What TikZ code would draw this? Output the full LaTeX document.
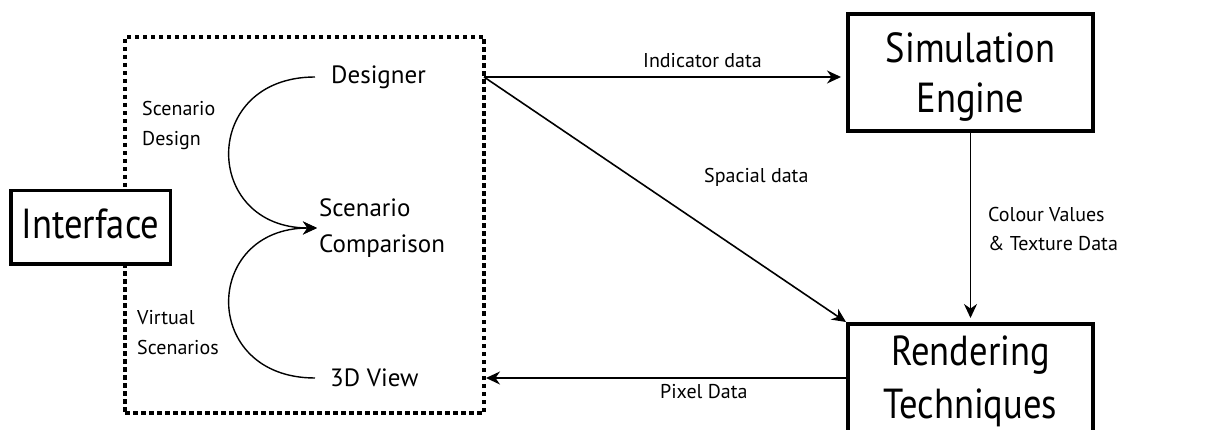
\documentclass[tikz,border=0pt]{standalone}
\usepackage{fontspec}
\setmainfont{PT Sans}
\newfontfamily\boxfont[FakeStretch=0.87]{PT Sans}
\usetikzlibrary{arrows.meta}
\begin{document}
\begin{tikzpicture}[x=1pt,y=-1pt,
  box/.style={draw, line width=4pt, fill=white, align=center, inner sep=0pt,
    font=\boxfont\fontsize{42}{50}\selectfont},
  lbl/.style={inner sep=0pt, align=left, font=\fontsize{20}{30}\selectfont},
  item/.style={inner ysep=0pt, align=left, font=\fontsize{25}{36}\selectfont},
  conn/.style={line width=1.6pt, -{Stealth[length=14pt,width=13pt]}},
  panelbox/.style={draw, line width=3.5pt, dash pattern=on 4.5pt off 3.5pt, inner sep=0pt}
]
\clip (0,0) rectangle (1231,430);
\fill[white] (0,0) rectangle (1231,430);

% dotted panel
\node[panelbox, minimum width=359pt, minimum height=376pt] (panel) at (304.5,225) {};

% boxes
\node[box, line width=3.5pt, minimum width=159.5pt, minimum height=73.5pt,
  text height=23pt, text depth=0pt] (iface) at (90.5,227.5) {Interface};
\node[box, minimum width=245pt, minimum height=117pt, text depth=0pt] (sim) at (970.5,72.5) {Simulation\\Engine};
\node[box, minimum width=245pt, anchor=north, inner ysep=12pt,
  font=\boxfont\fontsize{42}{53}\selectfont] (render) at (970.5,322) {Rendering\\Techniques};

% items in panel
\node[item, anchor=west, inner xsep=16pt] (designer) at (315,77) {Designer};
\node[item, anchor=west, inner xsep=2pt] (comp) at (317,228) {Scenario\\Comparison};
\node[item, anchor=west, inner xsep=15pt] (view) at (315,378) {3D View};

\draw[conn, line width=1.4pt] (designer.west) .. controls +(-115,0) and +(-115,0) .. (comp.west);
\draw[conn, line width=1.4pt] (view.west) .. controls +(-115,0) and +(-115,0) .. (comp.west);

\node[lbl, anchor=base west] (sdes) at (142,146) {Scenario\\Design};
\node[lbl, anchor=base west] (vsc) at (137,354) {Virtual\\Scenarios};

% connectors
\coordinate (dout) at (484,77);
\coordinate (pix) at (486,378);
\draw[conn, shorten >=5pt] (dout) -- (sim.west |- dout);
\draw[conn] (dout) -- (render.north west);
\draw[conn, shorten >=4pt] (sim.south) -- (render.north);
\draw[conn] (render.west |- pix) -- (pix);

\node[lbl, anchor=base west] (ind) at (643,68) {Indicator data};
\node[lbl, anchor=base west] (spa) at (704,183) {Spacial data};
\node[lbl, anchor=base west, font=\fontsize{20}{29}\selectfont] (col) at (988,251) {Colour Values\\\& Texture Data};
\node[lbl, anchor=base west] (pxd) at (660,398) {Pixel Data};
\end{tikzpicture}
\end{document}
